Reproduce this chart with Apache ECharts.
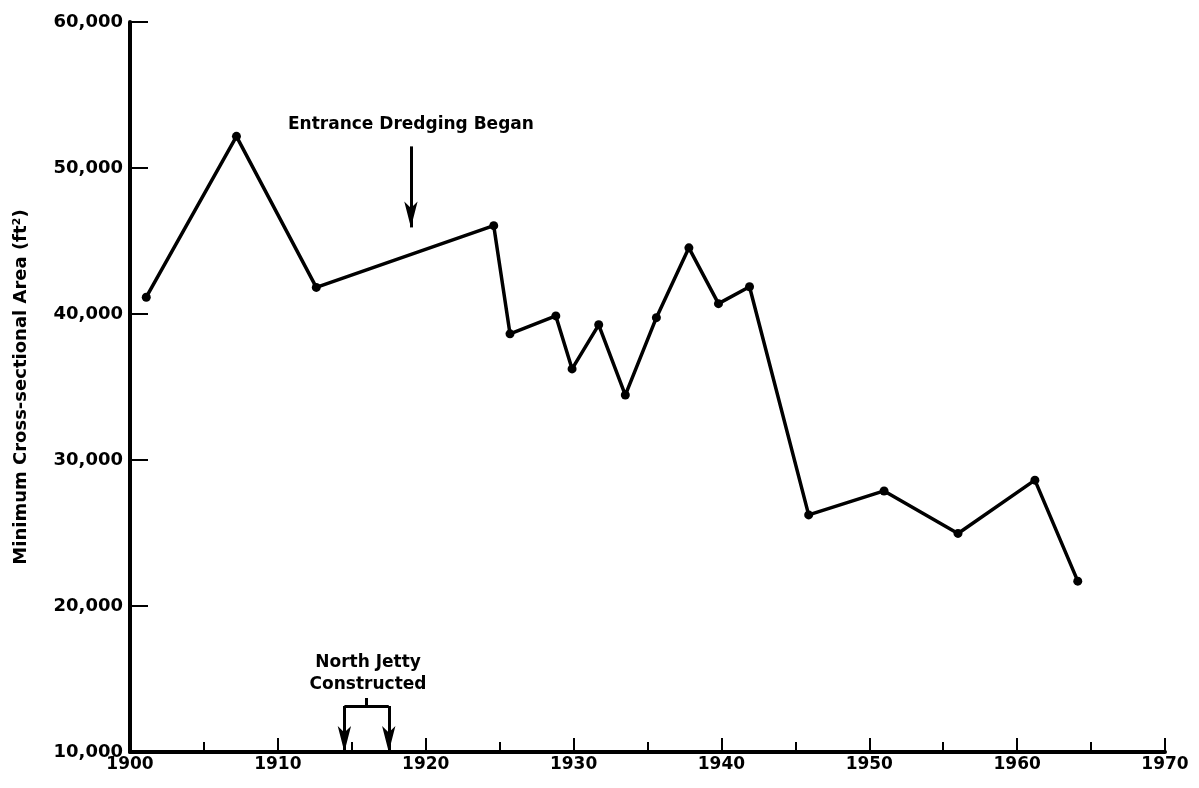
<!DOCTYPE html>
<html>
<head>
<meta charset="utf-8">
<script src="https://cdn.jsdelivr.net/npm/echarts@6/dist/echarts.min.js"></script>
<style>
html,body{margin:0;padding:0;background:#fff;}
#chart{width:1199px;height:788px;}
</style>
</head>
<body>
<div id="chart"></div>
<script>
// ---- data ----
const years = [1901.1, 1907.2, 1912.6, 1924.6, 1925.7, 1928.8, 1929.9, 1931.7, 1933.5, 1935.6, 1937.8, 1939.8, 1941.9, 1945.9, 1951.0, 1956.0, 1961.2, 1964.1];
const areas = [41150, 52170, 41820, 46050, 38640, 39870, 36240, 39260, 34450, 39750, 44530, 40710, 41870, 26240, 27880, 24970, 28620, 21700];
const xRange = [1900, 1970];
const yRange = [10000, 60000];
const yTickStep = 10000;
const xTickStep = 10;
const yAxisTitle = 'Minimum Cross-sectional Area (ft²)';

// annotations (data coordinates)
const dredgeText = 'Entrance Dredging Began';
const dredgeYear = 1919;
const dredgeArrow = [51480, 45930];     // from, to (area)
const dredgeTextArea = 53000;
const jettyText = 'North Jetty\nConstructed';
const jettyYears = [1914.5, 1917.5];   // start, end of construction
const jettyBracketArea = 13150;
const jettyMidTick = 13700;
const jettyTextPos = [1916.1, 15400];

const FONT = 'DejaVu Sans';
const chart = echarts.init(document.getElementById('chart'), null, {renderer: 'canvas'});

const points = years.map((y, i) => [y, areas[i]]);
const jettyMid = (jettyYears[0] + jettyYears[1]) / 2;

function fmt(v) { return String(v).replace(/\B(?=(\d{3})+(?!\d))/g, ','); }

const arrowEnd = {symbol: 'arrow', symbolSize: [10, 26]};
const noSym = {symbol: 'none'};

chart.setOption({
  animation: false,
  backgroundColor: '#fff',
  grid: {left: 130, right: 34, top: 22, bottom: 36, containLabel: false},
  xAxis: {
    type: 'value', min: xRange[0], max: xRange[1], interval: xTickStep,
    axisLine: {show: true, lineStyle: {color: '#000', width: 4}},
    axisTick: {show: true, inside: true, length: 14, lineStyle: {color: '#000', width: 2}},
    minorTick: {show: true, splitNumber: 2, length: 10, lineStyle: {color: '#000', width: 2}},
    splitLine: {show: false},
    axisLabel: {color: '#000', fontFamily: FONT, fontWeight: 'bold', fontSize: 17, margin: 4,
      formatter: v => String(v)}
  },
  yAxis: {
    type: 'value', min: yRange[0], max: yRange[1], interval: yTickStep,
    name: yAxisTitle, nameLocation: 'middle', nameGap: 100, nameRotate: 90,
    nameTextStyle: {color: '#000', fontFamily: FONT, fontWeight: 'bold', fontSize: 18},
    axisLine: {show: true, lineStyle: {color: '#000', width: 4}},
    axisTick: {show: true, inside: true, length: 18, lineStyle: {color: '#000', width: 2}},
    splitLine: {show: false},
    axisLabel: {color: '#000', fontFamily: FONT, fontWeight: 'bold', fontSize: 18, margin: 7,
      formatter: v => fmt(v)}
  },
  series: [
    {
      type: 'line',
      data: points,
      symbol: 'circle', symbolSize: 9,
      itemStyle: {color: '#000'},
      lineStyle: {color: '#000', width: 3.5},
      silent: true,
      markLine: {
        silent: true,
        label: {show: false},
        lineStyle: {color: '#000', width: 3, type: 'solid'},
        data: [
          [Object.assign({coord: [dredgeYear, dredgeArrow[0]]}, noSym),
           Object.assign({coord: [dredgeYear, dredgeArrow[1]]}, arrowEnd)],
          [Object.assign({coord: [jettyYears[0], jettyBracketArea]}, noSym),
           Object.assign({coord: [jettyYears[0], yRange[0]]}, arrowEnd)],
          [Object.assign({coord: [jettyYears[1], jettyBracketArea]}, noSym),
           Object.assign({coord: [jettyYears[1], yRange[0]]}, arrowEnd)],
          [Object.assign({coord: [jettyYears[0], jettyBracketArea]}, noSym),
           Object.assign({coord: [jettyYears[1], jettyBracketArea]}, noSym)],
          [Object.assign({coord: [jettyMid, jettyBracketArea]}, noSym),
           Object.assign({coord: [jettyMid, jettyMidTick]}, noSym)]
        ]
      }
    },
    {
      type: 'scatter',
      silent: true,
      symbolSize: 0,
      itemStyle: {color: '#000', opacity: 1},
      data: [
        {value: [dredgeYear, dredgeTextArea], name: dredgeText},
        {value: jettyTextPos, name: jettyText}
      ],
      label: {
        show: true, position: 'inside', color: '#000', opacity: 1,
        textBorderWidth: 0,
        fontFamily: FONT, fontWeight: 'bold', fontSize: 17, lineHeight: 22,
        align: 'center', verticalAlign: 'middle',
        formatter: p => p.name
      }
    }
  ]
});
</script>
</body>
</html>
